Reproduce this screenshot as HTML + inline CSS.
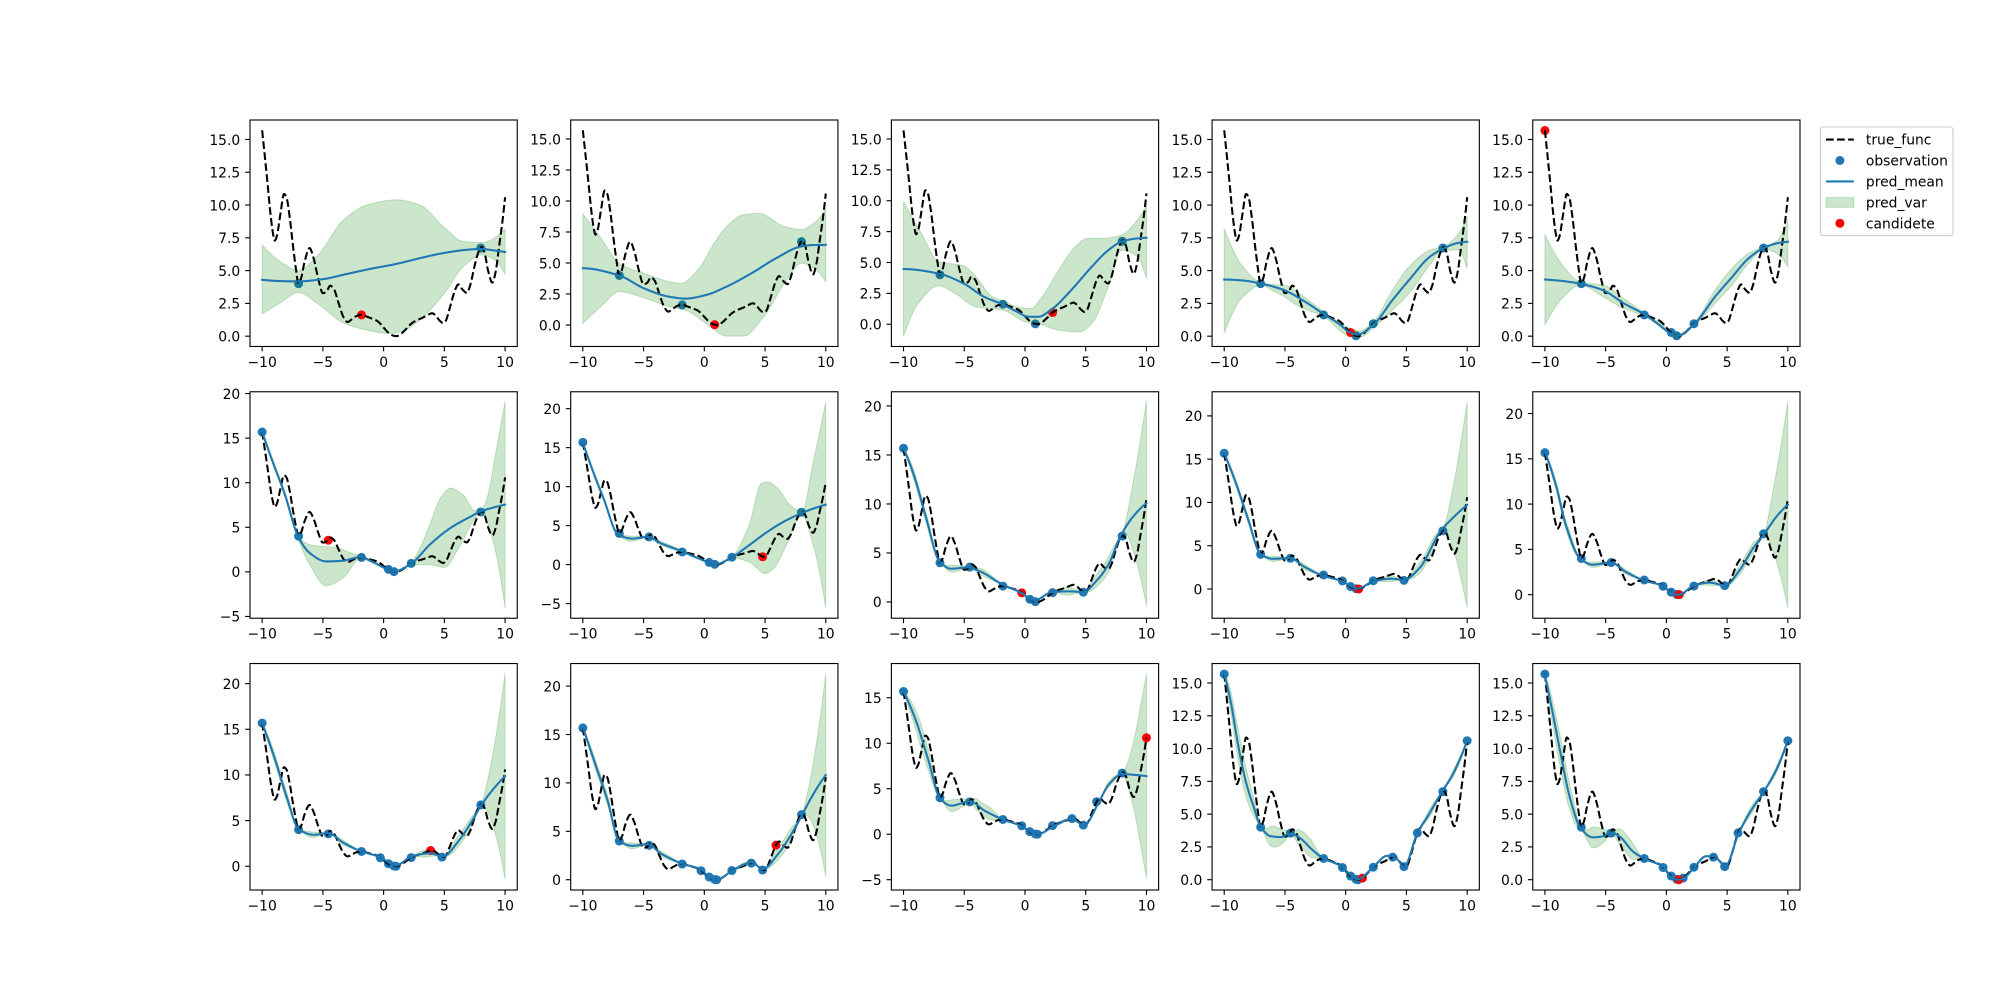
<!DOCTYPE html>
<html><head><meta charset="utf-8">
<style>
html,body{margin:0;padding:0;background:#fff;width:2000px;height:1000px;overflow:hidden;}
svg{display:block;}
text{font-family:"DejaVu Sans","Liberation Sans",sans-serif;font-size:13.89px;fill:#000;}
</style></head><body>
<svg id="fig" xmlns="http://www.w3.org/2000/svg" width="2000" height="1000" viewBox="0 0 2000 1000">
<rect width="2000" height="1000" fill="#fff"/>
<g id="a0"><text class="yt">0.0</text><text class="yt">2.5</text><text class="yt">5.0</text><text class="yt">7.5</text><text class="yt">10.0</text><text class="yt">12.5</text><text class="yt">15.0</text><text class="xt">−10</text><text class="xt">−5</text><text class="xt">0</text><text class="xt">5</text><text class="xt">10</text></g>
<g id="a1"><text class="yt">0.0</text><text class="yt">2.5</text><text class="yt">5.0</text><text class="yt">7.5</text><text class="yt">10.0</text><text class="yt">12.5</text><text class="yt">15.0</text><text class="xt">−10</text><text class="xt">−5</text><text class="xt">0</text><text class="xt">5</text><text class="xt">10</text></g>
<g id="a2"><text class="yt">0.0</text><text class="yt">2.5</text><text class="yt">5.0</text><text class="yt">7.5</text><text class="yt">10.0</text><text class="yt">12.5</text><text class="yt">15.0</text><text class="xt">−10</text><text class="xt">−5</text><text class="xt">0</text><text class="xt">5</text><text class="xt">10</text></g>
<g id="a3"><text class="yt">0.0</text><text class="yt">2.5</text><text class="yt">5.0</text><text class="yt">7.5</text><text class="yt">10.0</text><text class="yt">12.5</text><text class="yt">15.0</text><text class="xt">−10</text><text class="xt">−5</text><text class="xt">0</text><text class="xt">5</text><text class="xt">10</text></g>
<g id="a4"><text class="yt">0.0</text><text class="yt">2.5</text><text class="yt">5.0</text><text class="yt">7.5</text><text class="yt">10.0</text><text class="yt">12.5</text><text class="yt">15.0</text><text class="xt">−10</text><text class="xt">−5</text><text class="xt">0</text><text class="xt">5</text><text class="xt">10</text></g>
<g id="a5"><text class="yt">−5</text><text class="yt">0</text><text class="yt">5</text><text class="yt">10</text><text class="yt">15</text><text class="yt">20</text><text class="xt">−10</text><text class="xt">−5</text><text class="xt">0</text><text class="xt">5</text><text class="xt">10</text></g>
<g id="a6"><text class="yt">−5</text><text class="yt">0</text><text class="yt">5</text><text class="yt">10</text><text class="yt">15</text><text class="yt">20</text><text class="xt">−10</text><text class="xt">−5</text><text class="xt">0</text><text class="xt">5</text><text class="xt">10</text></g>
<g id="a7"><text class="yt">0</text><text class="yt">5</text><text class="yt">10</text><text class="yt">15</text><text class="yt">20</text><text class="xt">−10</text><text class="xt">−5</text><text class="xt">0</text><text class="xt">5</text><text class="xt">10</text></g>
<g id="a8"><text class="yt">0</text><text class="yt">5</text><text class="yt">10</text><text class="yt">15</text><text class="yt">20</text><text class="xt">−10</text><text class="xt">−5</text><text class="xt">0</text><text class="xt">5</text><text class="xt">10</text></g>
<g id="a9"><text class="yt">0</text><text class="yt">5</text><text class="yt">10</text><text class="yt">15</text><text class="yt">20</text><text class="xt">−10</text><text class="xt">−5</text><text class="xt">0</text><text class="xt">5</text><text class="xt">10</text></g>
<g id="a10"><text class="yt">0</text><text class="yt">5</text><text class="yt">10</text><text class="yt">15</text><text class="yt">20</text><text class="xt">−10</text><text class="xt">−5</text><text class="xt">0</text><text class="xt">5</text><text class="xt">10</text></g>
<g id="a11"><text class="yt">0</text><text class="yt">5</text><text class="yt">10</text><text class="yt">15</text><text class="yt">20</text><text class="xt">−10</text><text class="xt">−5</text><text class="xt">0</text><text class="xt">5</text><text class="xt">10</text></g>
<g id="a12"><text class="yt">−5</text><text class="yt">0</text><text class="yt">5</text><text class="yt">10</text><text class="yt">15</text><text class="xt">−10</text><text class="xt">−5</text><text class="xt">0</text><text class="xt">5</text><text class="xt">10</text></g>
<g id="a13"><text class="yt">0.0</text><text class="yt">2.5</text><text class="yt">5.0</text><text class="yt">7.5</text><text class="yt">10.0</text><text class="yt">12.5</text><text class="yt">15.0</text><text class="xt">−10</text><text class="xt">−5</text><text class="xt">0</text><text class="xt">5</text><text class="xt">10</text></g>
<g id="a14"><text class="yt">0.0</text><text class="yt">2.5</text><text class="yt">5.0</text><text class="yt">7.5</text><text class="yt">10.0</text><text class="yt">12.5</text><text class="yt">15.0</text><text class="xt">−10</text><text class="xt">−5</text><text class="xt">0</text><text class="xt">5</text><text class="xt">10</text></g>

<g id="legend">
<rect x="1820.4" y="127" width="132.6" height="108.7" rx="2.8" ry="2.8" fill="#fff" fill-opacity="0.8" stroke="#cccccc" stroke-width="1.11"/>
<line x1="1826" y1="139.6" x2="1853.8" y2="139.6" stroke="#000" stroke-width="2.08" stroke-dasharray="7.71 3.33"/>
<text x="1865.9" y="144.6">true_func</text>
<circle cx="1839.9" cy="160.5" r="4.5" fill="#1f77b4"/>
<text x="1865.9" y="165.5">observation</text>
<line x1="1826" y1="181.4" x2="1853.8" y2="181.4" stroke="#1f77b4" stroke-width="2.08"/>
<text x="1865.9" y="186.4">pred_mean</text>
<rect x="1826" y="197.6" width="27.8" height="9.7" fill="rgba(0,128,0,0.2)" stroke="rgba(0,128,0,0.2)" stroke-width="1"/>
<text x="1865.9" y="207.4">pred_var</text>
<circle cx="1839.9" cy="223.3" r="4.5" fill="#ff0000"/>
<text x="1865.9" y="228.3">candidete</text>
</g>
</svg>
<script>
(function(){
const NS="http://www.w3.org/2000/svg";
const COLS=[250,570.69,891.38,1212.07,1532.76], ROWS=[120,391.76,663.53], W=267.24, H=226.47;
function el(tag,attrs,parent){const e=document.createElementNS(NS,tag);for(const k in attrs)e.setAttribute(k,attrs[k]);if(parent)parent.appendChild(e);return e;}
function pchip(P){
  const n=P.length,x=P.map(p=>p[0]),y=P.map(p=>p[1]),h=[],d=[],m=[];
  for(let i=0;i<n-1;i++){h[i]=x[i+1]-x[i];d[i]=(y[i+1]-y[i])/h[i];}
  if(n===2){m[0]=m[1]=d[0];}
  else{
    for(let i=1;i<n-1;i++){
      if(d[i-1]*d[i]<=0)m[i]=0;
      else{const w1=2*h[i]+h[i-1],w2=h[i]+2*h[i-1];m[i]=(w1+w2)/(w1/d[i-1]+w2/d[i]);}
    }
    const end=(h0,h1,d0,d1)=>{let mm=((2*h0+h1)*d0-h0*d1)/(h0+h1);
      if(Math.sign(mm)!==Math.sign(d0))mm=0;
      else if(Math.sign(d0)!==Math.sign(d1)&&Math.abs(mm)>Math.abs(3*d0))mm=3*d0;return mm;};
    m[0]=end(h[0],h[1],d[0],d[1]);m[n-1]=end(h[n-2],h[n-3],d[n-2],d[n-3]);
  }
  return function(t){
    let i=0;
    if(t<=x[0])i=0;else if(t>=x[n-1])i=n-2;else{while(i<n-2&&t>x[i+1])i++;}
    const hh=h[i],s=(t-x[i])/hh,s2=s*s,s3=s2*s;
    return (2*s3-3*s2+1)*y[i]+(s3-2*s2+s)*hh*m[i]+(-2*s3+3*s2)*y[i+1]+(s3-s2)*hh*m[i+1];
  };
}
const TF=[[-10,15.7],[-9.8,13.9],[-9.55,11.6],[-9.3,9.2],[-9.12,7.9],[-8.97,7.28],[-8.8,7.6],[-8.5,9.3],[-8.2,10.85],[-8.0,10.6],[-7.75,9.2],[-7.45,6.8],[-7.2,5.0],[-7.02,4.0],[-6.8,4.4],[-6.5,5.7],[-6.1,6.72],[-5.75,5.9],[-5.4,4.45],[-5.0,3.28],[-4.7,3.4],[-4.4,3.85],[-4.1,3.6],[-3.7,2.5],[-3.3,1.45],[-2.97,1.08],[-2.6,1.3],[-2.2,1.55],[-1.82,1.63],[-1.4,1.5],[-1.0,1.35],[-0.6,1.2],[-0.27,0.95],[0.1,0.55],[0.5,0.18],[0.8,0.04],[1.05,0.0],[1.35,0.12],[1.8,0.5],[2.27,0.95],[2.7,1.2],[3.2,1.4],[3.6,1.6],[4.0,1.75],[4.3,1.55],[4.6,1.2],[4.9,1.0],[5.1,1.15],[5.4,2.0],[5.7,3.0],[5.9,3.57],[6.15,3.95],[6.5,3.55],[6.85,3.3],[7.1,3.8],[7.5,5.4],[7.8,6.4],[8.05,6.8],[8.3,6.4],[8.6,5.0],[8.95,4.08],[9.2,4.8],[9.5,6.8],[9.8,8.9],[10,10.6]];
const A=[-7,4.0],B=[8,6.72],C=[-1.82,1.62],D=[0.85,0.03],E=[2.27,0.95],F=[0.4,0.28],G=[-10,15.68],Hh=[-4.55,3.55],I=[4.8,1.0],J=[-0.27,0.93],K=[1.07,0.0],K2=[1.02,0.0],L=[3.87,1.72],M=[5.9,3.57],N=[10,10.6],O=[1.38,0.12];
const hwA=[[-10,0.05],[-9,0.5],[-8,0.5],[-7,0.05],[-6,0.3],[-4.55,0.05],[-3.4,0.25],[-1.9,0.05],[2.3,0.05],[3.5,0.4],[4.8,0.05],[6,0.55],[7,0.6],[8,0.05]];
const S1=[[-0.785,16.485]];
const P=[
{yl:[-0.785,16.485],obs:[A,B],cand:C,
 m:[[-10,4.3],[-8.5,4.2],[-7,4.18],[-5,4.35],[-3,4.75],[-1,5.15],[1,5.5],[3,5.95],[5,6.35],[7,6.6],[8,6.65],[9,6.55],[10,6.42]],
 up:[[-10,6.97],[-8.52,5.7],[-7,5.02],[-5.5,6.08],[-3.3,8.87],[-1.39,10.0],[1.08,10.4],[3.0,10.0],[4.92,8.36],[6.57,7.22],[8.08,7.14],[10,8.15]],
 lo:[[-10,1.7],[-8.52,2.53],[-7,3.34],[-5.5,2.53],[-3.3,1.01],[-1.39,0.46],[0.5,0.2],[1.6,0.4],[3.0,1.27],[4.92,3.17],[6.57,5.32],[8.08,6.2],[9,5.9],[10,4.75]]},
{yl:[-1.73,16.53],obs:[A,C,B],cand:D,
 m:[[-10,4.58],[-7,3.99],[-4.97,2.96],[-2.93,2.29],[-1.56,2.13],[0.14,2.42],[1.84,3.1],[3.88,4.17],[5.92,5.39],[7.96,6.33],[9,6.45],[10,6.46]],
 up:[[-10,8.97],[-8.5,7.0],[-7,4.98],[-5,4.17],[-1.9,3.37],[-0.5,4.5],[0.82,6.6],[2,8.1],[3.2,8.89],[4.5,9.0],[6.6,7.95],[8,7.7],[9,8.2],[10,9.3]],
 lo:[[-10,0.13],[-8.5,1.5],[-7,2.69],[-5,2.2],[-2.9,1.48],[-1.56,1.2],[0.14,0.13],[1.84,-0.9],[3.2,-0.9],[4.9,0.67],[6.6,3.37],[8,4.98],[9,4.6],[10,3.5]]},
{yl:[-1.80,16.54],obs:[A,C,D,B],cand:E,
 m:[[-10,4.47],[-7.1,4.1],[-5.06,3.3],[-3.36,2.22],[-1.82,1.6],[-0.63,1.0],[0.22,0.62],[1.07,0.6],[2.27,1.27],[3.8,2.76],[5.5,4.66],[6.86,6.0],[7.96,6.69],[9,6.92],[10,7.0]],
 up:[[-10,9.94],[-8.5,7.3],[-7.1,5.06],[-5.06,4.74],[-4.04,3.85],[-2.67,2.22],[-1.82,1.9],[-0.63,1.41],[0.5,1.27],[1.4,2.22],[2.78,4.39],[4.14,6.28],[5.16,6.96],[6.52,6.96],[7.96,7.23],[9.25,8.45],[10,9.53]],
 lo:[[-10,-0.97],[-8.8,1.68],[-7.1,3.11],[-5.74,2.49],[-4.04,1.41],[-1.82,1.14],[0.05,0.19],[1.07,0.05],[2.78,-0.49],[4.48,-0.62],[5.5,0.05],[6.86,3.03],[7.96,6.0],[9.25,5.47],[10,3.71]]},
{yl:[-0.785,16.485],obs:[A,C,D,E,B],cand:F,
 m:[[-10,4.32],[-8.5,4.25],[-6.92,4.0],[-5.04,3.5],[-3.33,2.62],[-1.8,1.68],[-0.6,0.97],[0.43,0.25],[0.94,0.12],[2.38,0.97],[3.85,2.75],[5.21,4.27],[6.92,6.05],[8.05,6.69],[9.3,7.12],[10,7.2]],
 up:[[-10,8.21],[-8.46,5.29],[-6.92,4.07],[-6.07,3.95],[-5.04,3.89],[-4.02,3.38],[-1.8,1.86],[0.43,0.58],[1.1,0.4],[2.38,1.22],[3.85,3.51],[5.21,5.29],[6.92,6.56],[8.05,6.82],[9.3,7.83],[10,9.15]],
 lo:[[-10,0.25],[-8.46,3.0],[-6.92,3.89],[-6.07,3.5],[-5.04,3.0],[-4.02,2.36],[-1.8,1.47],[0.43,-0.05],[1.1,-0.1],[2.38,0.71],[3.85,1.98],[5.21,3.25],[6.92,5.42],[8.05,6.56],[9.3,6.56],[10,5.16]]},
{yl:[-0.785,16.485],obs:[A,C,F,D,E,B],cand:G,
 m:[[-10,4.32],[-8.5,4.2],[-7.1,4.0],[-5.2,3.5],[-3.5,2.5],[-1.84,1.68],[-0.75,0.97],[0.28,0.25],[0.9,0.02],[2.34,0.97],[4.0,3.0],[5.4,4.5],[6.75,5.92],[8.05,6.74],[9.2,7.1],[10,7.2]],
 up:[[-10,7.78],[-8.46,5.3],[-7.1,4.14],[-5.2,3.89],[-3.5,2.87],[-1.84,1.8],[0,0.7],[0.9,0.15],[2.34,1.1],[4.0,3.51],[5.4,5.16],[6.75,6.3],[8.05,6.82],[9.15,7.32],[10,8.85]],
 lo:[[-10,0.84],[-8.46,3.0],[-7.1,3.89],[-5.2,3.0],[-3.5,2.11],[-1.84,1.55],[0,0.4],[0.9,-0.08],[2.34,0.85],[4.0,2.49],[5.4,3.89],[6.75,5.54],[8.05,6.61],[9.15,6.3],[10,5.29]]},
{yl:[-5.2,20.2],obs:[G,A,C,F,D,E,B],cand:Hh,
 m:[[-10,15.7],[-9.15,12.4],[-8.13,8.66],[-7.04,3.98],[-6.08,2.11],[-4.72,1.17],[-3.36,1.25],[-1.89,1.66],[-0.97,1.17],[0.22,0.35],[0.83,0.05],[2.33,0.99],[3.8,3.05],[5.5,4.92],[7.2,6.23],[8,6.79],[9,7.2],[10,7.54]],
 up:[[-10,15.8],[-9,12.2],[-8,8.5],[-7.04,4.17],[-6.5,3.3],[-5.74,2.94],[-4.04,2.75],[-2.67,2.11],[-1.89,1.81],[-1,1.3],[0.2,0.45],[0.83,0.15],[2.33,1.17],[3.0,2.7],[3.8,5.3],[4.7,8.3],[5.5,9.4],[6.52,8.66],[7.54,6.85],[8,6.86],[8.5,8.2],[9.25,13.5],[10,19.14]],
 lo:[[-10,15.6],[-9,11.8],[-8,8.1],[-7.04,3.72],[-6.08,0.8],[-4.72,-1.56],[-3.36,-0.69],[-1.89,1.47],[-1,1.05],[0.2,0.25],[0.83,-0.05],[2.33,0.8],[3.8,0.8],[5.0,0.5],[6.18,2.67],[7.54,6.04],[8,6.6],[8.9,3.98],[10,-4.06]]},
{yl:[-6.88,22.17],obs:[G,A,Hh,C,F,D,E,B],cand:I,
 m:[[-10,15.64],[-9.15,11.9],[-8.29,8.46],[-7.09,3.85],[-5.9,3.33],[-4.7,3.55],[-3.5,2.69],[-1.86,1.71],[-0.77,0.98],[0.26,0.34],[0.87,0.04],[2.31,0.98],[3.68,2.48],[5.38,4.4],[6.75,5.68],[8.05,6.62],[9,7.2],[10,7.69]],
 up:[[-10,15.7],[-9,11.6],[-8.29,8.7],[-7.09,4.0],[-6,3.65],[-4.7,3.65],[-3.5,2.95],[-1.86,1.85],[0.26,0.45],[0.87,0.15],[2.31,1.1],[3.68,5.04],[4.7,10.4],[5.2,10.6],[6.07,9.74],[7.09,7.6],[8.05,6.84],[8.97,13.2],[10,20.85]],
 lo:[[-10,15.6],[-9,11.0],[-8.29,8.2],[-7.09,3.7],[-6,3.0],[-4.7,3.45],[-3.5,2.45],[-1.86,1.57],[0.26,0.25],[0.87,-0.07],[2.31,0.85],[3.68,0.34],[5.04,-1.15],[5.7,-0.5],[6.75,2.48],[8.05,6.32],[8.97,2.48],[10,-5.56]]},
{yl:[-1.66,21.45],obs:[G,A,Hh,C,F,D,E,I,B],cand:J,
 m:[[-10,15.66],[-9.15,12.95],[-8.13,8.54],[-7.04,4.14],[-6.08,3.39],[-4.72,3.53],[-3.7,3.12],[-1.82,1.76],[-0.29,0.92],[0.73,0.14],[2.27,1.02],[3.63,1.08],[4.82,1.02],[5.84,2.1],[6.86,3.8],[7.89,6.78],[8.9,8.71],[10,10.07]],
 hw:[[-10,0.05],[-9,0.5],[-8,0.5],[-7,0.05],[-6,0.35],[-4.6,0.05],[-3.5,0.35],[-1.8,0.05],[2.3,0.05],[3.5,0.4],[4.8,0.05],[5.8,0.6],[6.9,0.8],[8,0.05],[9,4.0],[9.5,7.0],[10,10.5]]},
{yl:[-3.38,22.79],obs:[G,A,Hh,C,J,F,D,E,I,B],cand:K,
 m:[[-10,15.67],[-9.08,12.4],[-8.06,8.18],[-7.0,4.03],[-6.01,3.49],[-4.55,3.57],[-3.46,2.61],[-1.93,1.57],[-0.29,0.88],[0.46,0.31],[0.97,0.04],[2.27,0.88],[3.7,1.19],[4.79,1.07],[6.08,2.42],[7.79,6.64],[8.8,8.18],[10,9.71]],
 hw:[[-10,0.05],[-9,0.4],[-8,0.4],[-7,0.05],[-6,0.3],[-4.55,0.05],[-3.5,0.3],[-1.9,0.05],[2.3,0.05],[3.6,0.35],[4.8,0.05],[6,0.6],[7,0.7],[8,0.05],[9,4.5],[9.5,8],[10,11.9]]},
{yl:[-2.6,22.4],obs:[G,A,Hh,C,J,F,D,K,E,I,B],cand:K2,
 m:[[-10,15.76],[-9.09,12.08],[-8.27,7.66],[-7.09,3.98],[-6.07,3.31],[-4.56,3.54],[-3.32,2.5],[-1.87,1.58],[-0.22,0.92],[0.3,0.29],[1.02,0.0],[2.31,1.03],[3.54,1.33],[4.84,1.03],[6.02,2.69],[7.12,5.08],[8.02,6.63],[9.04,8.58],[10,9.94]],
 hw:[[-10,0.05],[-9,0.5],[-8,0.5],[-7,0.05],[-6,0.3],[-4.5,0.05],[-3.4,0.25],[-1.9,0.05],[2.3,0.05],[3.6,0.3],[4.8,0.05],[6,0.5],[7,0.6],[8,0.05],[8.77,3.3],[9.31,6.5],[10,11.4]]},
{yl:[-2.6,22.2],obs:[G,A,Hh,C,J,F,D,K2,E,I,B],cand:L,
 m:[[-10,15.68],[-8.98,11.87],[-7.96,7.51],[-7.0,4.07],[-5.74,3.45],[-4.55,3.63],[-3.36,2.61],[-1.99,1.71],[-0.29,0.98],[0.39,0.44],[0.97,0.07],[2.33,1.09],[3.8,1.42],[4.89,1.09],[6.18,2.79],[7.2,4.79],[8,6.6],[8.9,8.24],[10,9.87]],
 hw:hwA.concat([[8.5,1.5],[9.25,5.5],[10,11.3]])},
{yl:[-1.06,22.33],obs:[G,A,Hh,C,J,F,D,K2,E,L,I,B],cand:M,
 m:[[-10,15.77],[-8.97,11.92],[-7.95,8.14],[-7.03,4.02],[-5.9,3.5],[-4.7,3.68],[-3.5,2.65],[-1.86,1.68],[-0.19,1.0],[0.26,0.41],[1.0,0.0],[2.38,1.0],[3.91,1.79],[4.8,1.1],[6.07,2.65],[7.09,4.54],[8.05,6.7],[8.97,8.83],[10,10.82]],
 hw:[[-10,0.05],[-9,0.5],[-8,0.5],[-7,0.05],[-6,0.3],[-4.6,0.05],[-3.4,0.25],[-1.9,0.05],[2.3,0.05],[3.1,0.2],[3.87,0.05],[4.8,0.05],[6,0.6],[7,0.7],[8,0.05],[8.5,1.2],[9,3.4],[9.5,6.5],[10,10.5]]},
{yl:[-6.13,18.76],obs:[G,A,Hh,C,J,F,D,K2,E,L,I,M,B],cand:N,
 m:[[-10,15.66],[-8.97,12.45],[-7.95,8.1],[-6.99,3.94],[-6.07,3.14],[-4.53,3.61],[-3.33,2.59],[-1.79,1.6],[-0.26,0.88],[0.36,0.33],[1.11,0.04],[2.31,0.84],[3.85,1.68],[4.87,0.99],[6.07,3.5],[6.92,5.51],[8.02,6.61],[8.97,6.53],[10,6.39]],
 hw:[[-10,0.05],[-9.3,0.8],[-8.5,1.3],[-7.7,0.9],[-7,0.05],[-6,0.65],[-5,0.35],[-4.55,0.05],[-4,0.6],[-3,0.7],[-1.8,0.05],[2.3,0.05],[3,0.15],[3.85,0.05],[4.87,0.05],[6,0.05],[7,0.3],[8,0.05],[8.5,1.5],[9,4.0],[9.5,7.5],[10,11.3]]},
{yl:[-0.785,16.485],obs:[G,A,Hh,C,J,F,D,K2,E,L,I,M,B,N],cand:O,
 m:[[-10,15.69],[-9.42,13.35],[-8.91,10.56],[-8.23,7.51],[-7.55,5.48],[-7.0,4.05],[-6.18,3.32],[-5.33,3.25],[-4.58,3.53],[-3.8,3.2],[-2.78,2.31],[-1.93,1.68],[-0.29,0.99],[0.36,0.38],[0.97,0.03],[2.27,0.96],[3.4,1.82],[3.9,1.78],[4.3,1.5],[4.8,1.0],[5.91,3.58],[6.76,4.85],[7.96,6.75],[8.81,8.02],[10,10.6]],
 hw:[[-10,0.05],[-9.5,0.8],[-8.6,1.2],[-7.7,0.8],[-7,0.05],[-6,0.8],[-5,0.4],[-4.55,0.05],[-3.8,0.6],[-3,0.7],[-1.9,0.05],[1.2,0.12],[2.27,0.05],[5.9,0.05],[7,0.3],[8,0.05],[9,0.25],[10,0.05]]},
{yl:[-0.785,16.485],obs:[G,A,Hh,C,J,F,D,K2,O,E,L,I,M,B,N],cand:K2,
 m:[[-10,15.6],[-9.37,12.78],[-8.68,9.49],[-8.0,6.46],[-7.09,3.99],[-6.07,3.23],[-5.25,3.31],[-4.56,3.61],[-3.87,3.31],[-2.77,2.17],[-1.87,1.62],[-0.22,0.96],[0.3,0.28],[1.02,0.0],[1.4,0.1],[2.31,0.96],[3.27,1.79],[3.96,1.79],[4.3,1.5],[4.84,1.04],[5.96,3.56],[6.84,5.08],[8.02,6.72],[9.04,8.36],[10,10.63]],
 hw:[[-10,0.05],[-9.5,0.8],[-8.6,1.2],[-7.7,0.8],[-7,0.05],[-6,0.8],[-5,0.4],[-4.55,0.05],[-3.8,0.6],[-3,0.7],[-1.9,0.05],[2.27,0.05],[5.9,0.05],[7,0.3],[8,0.05],[9,0.25],[10,0.05]]}
];
const tf=pchip(TF);
const XS=[];for(let k=0;k<=400;k++)XS.push(-10+k*0.05);
const fig=document.getElementById('fig'), legend=document.getElementById('legend');
P.forEach((p,i)=>{
  const g=document.getElementById('a'+i);
  const left=COLS[i%5], top=ROWS[Math.floor(i/5)], y0=p.yl[0], y1=p.yl[1];
  const X=x=>left+(x+11)/22*W, Y=y=>top+(y1-y)/(y1-y0)*H;
  const defs=el('defs',{});const cp=el('clipPath',{id:'c'+i},defs);
  el('rect',{x:left,y:top,width:W,height:H},cp);
  g.insertBefore(defs,g.firstChild);
  const d=el('g',{'clip-path':'url(#c'+i+')'});
  g.insertBefore(d,defs.nextSibling);
  // observations (zorder 1, first)
  p.obs.forEach(o=>el('circle',{cx:X(o[0]).toFixed(2),cy:Y(o[1]).toFixed(2),r:4.5,fill:'#1f77b4'},d));
  // band
  const mf=pchip(p.m);
  let uf,lf;
  if(p.up){uf=pchip(p.up);lf=pchip(p.lo);}
  else{const hf=pchip(p.hw);uf=x=>mf(x)+Math.max(0,hf(x));lf=x=>mf(x)-Math.max(0,hf(x));}
  let s='';
  XS.forEach((x,k)=>{s+=(k?'L':'M')+X(x).toFixed(2)+' '+Y(uf(x)).toFixed(2);});
  for(let k=XS.length-1;k>=0;k--){const x=XS[k];s+='L'+X(x).toFixed(2)+' '+Y(lf(x)).toFixed(2);}
  s+='Z';
  el('path',{d:s,fill:'rgba(0,128,0,0.2)',stroke:'rgba(0,128,0,0.2)','stroke-width':1},d);
  // candidate
  el('circle',{cx:X(p.cand[0]).toFixed(2),cy:Y(p.cand[1]).toFixed(2),r:4.5,fill:'#ff0000'},d);
  // true function
  let t='';XS.forEach((x,k)=>{t+=(k?'L':'M')+X(x).toFixed(2)+' '+Y(tf(x)).toFixed(2);});
  el('path',{d:t,fill:'none',stroke:'#000','stroke-width':2.08,'stroke-dasharray':'7.71 3.33','stroke-linejoin':'round'},d);
  // mean
  let mm='';XS.forEach((x,k)=>{mm+=(k?'L':'M')+X(x).toFixed(2)+' '+Y(mf(x)).toFixed(2);});
  el('path',{d:mm,fill:'none',stroke:'#1f77b4','stroke-width':2.08,'stroke-linejoin':'round','stroke-linecap':'square'},d);
  // frame
  const fr=el('g',{});g.insertBefore(fr,d.nextSibling);
  el('rect',{x:left,y:top,width:W,height:H,fill:'none',stroke:'#000','stroke-width':1.11},fr);
  [-10,-5,0,5,10].forEach(v=>{const xx=X(v);el('line',{x1:xx,y1:top+H,x2:xx,y2:top+H+4.86,stroke:'#000','stroke-width':1.11},fr);});
  g.querySelectorAll('text.yt').forEach(tx=>{
    const v=parseFloat(tx.textContent.replace('\u2212','-'));const yy=Y(v);
    el('line',{x1:left-4.86,y1:yy,x2:left,y2:yy,stroke:'#000','stroke-width':1.11},fr);
    tx.setAttribute('x',(left-9.72).toFixed(2));tx.setAttribute('y',(yy+5.28).toFixed(2));tx.setAttribute('text-anchor','end');
  });
  g.querySelectorAll('text.xt').forEach(tx=>{
    const v=parseFloat(tx.textContent.replace('\u2212','-'));
    tx.setAttribute('x',X(v).toFixed(2));tx.setAttribute('y',(top+H+20.28).toFixed(2));tx.setAttribute('text-anchor','middle');
  });
});
fig.appendChild(legend);
})();
</script>
</body></html>
